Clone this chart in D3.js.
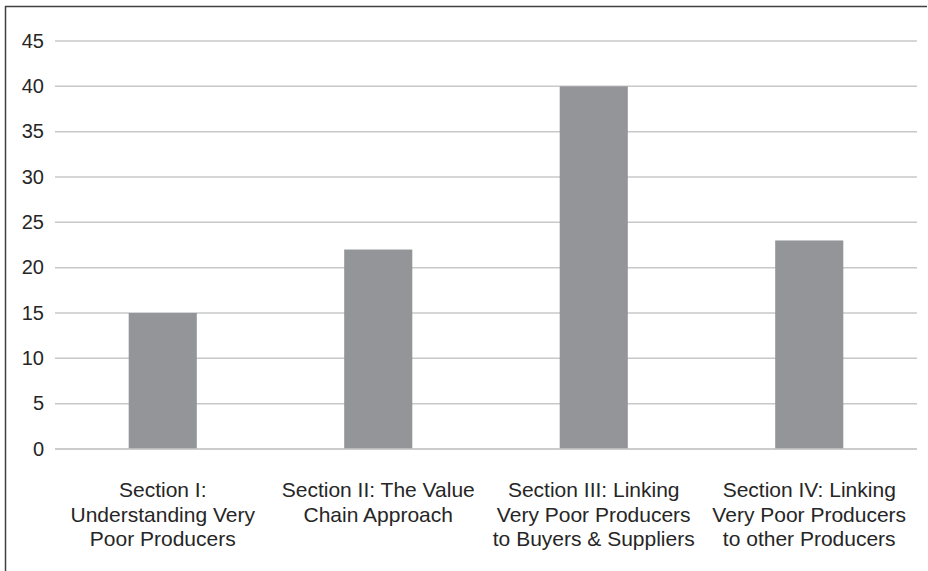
<!DOCTYPE html>
<html>
<head>
<meta charset="utf-8">
<script src="https://cdn.jsdelivr.net/npm/d3@7"></script>
<style>
  html, body { margin: 0; padding: 0; background: #fff; }
  svg { display: block; }
  text { font-family: "Liberation Sans", Arial, sans-serif; fill: #262626; }
</style>
</head>
<body>
<svg id="chart" width="928" height="571"></svg>
<script>
const categories = [
  ["Section I:", "Understanding Very", "Poor Producers"],
  ["Section II: The Value", "Chain Approach"],
  ["Section III: Linking", "Very Poor Producers", "to Buyers & Suppliers"],
  ["Section IV: Linking", "Very Poor Producers", "to other Producers"]
];
const values = [15, 22, 40, 23];
const yTicks = [0, 5, 10, 15, 20, 25, 30, 35, 40, 45];

const svg = d3.select("#chart");
const W = 928, H = 571;
const m = { left: 55, right: 11, top: 41, bottom: 122 };

// frame lines (top and left)
svg.append("line").attr("x1", 5).attr("x2", 927).attr("y1", 6.5).attr("y2", 6.5)
  .attr("stroke", "#404040").attr("stroke-width", 1.5);
svg.append("line").attr("x1", 5.5).attr("x2", 5.5).attr("y1", 6).attr("y2", H)
  .attr("stroke", "#404040").attr("stroke-width", 1.5);

const keys = categories.map((c, i) => i);
const x = d3.scaleBand().domain(keys).range([m.left, W - m.right]).paddingInner(0.684).paddingOuter(0.342);
const y = d3.scaleLinear().domain([0, 45]).range([H - m.bottom, m.top]);

// gridlines
svg.append("g").selectAll("line").data(yTicks).join("line")
  .attr("x1", m.left).attr("x2", W - m.right)
  .attr("y1", d => y(d)).attr("y2", d => y(d))
  .attr("stroke", "#c8c8c8").attr("stroke-width", 1.5);

// y tick labels
svg.append("g").selectAll("text").data(yTicks).join("text")
  .attr("x", 44).attr("y", d => y(d)).attr("dy", "0.34em")
  .attr("text-anchor", "end").attr("font-size", 20)
  .text(d => d);

// bars
svg.append("g").selectAll("rect").data(values).join("rect")
  .attr("x", (d, i) => x(i)).attr("width", x.bandwidth())
  .attr("y", d => y(d)).attr("height", d => y(0) - y(d))
  .attr("fill", "#939598");

// redraw baseline over bars
svg.append("line").attr("x1", m.left).attr("x2", W - m.right)
  .attr("y1", y(0)).attr("y2", y(0)).attr("stroke", "#c8c8c8").attr("stroke-width", 1.5);

// category labels
const lab = svg.append("g").selectAll("text").data(categories).join("text")
  .attr("text-anchor", "middle").attr("font-size", 21)
  .attr("x", (d, i) => x(i) + x.bandwidth() / 2)
  .attr("y", 497);
lab.selectAll("tspan").data(d => d).join("tspan")
  .attr("x", function() { return d3.select(this.parentNode).attr("x"); })
  .attr("dy", (d, j) => j === 0 ? 0 : 24.7)
  .text(d => d);
</script>
</body>
</html>
